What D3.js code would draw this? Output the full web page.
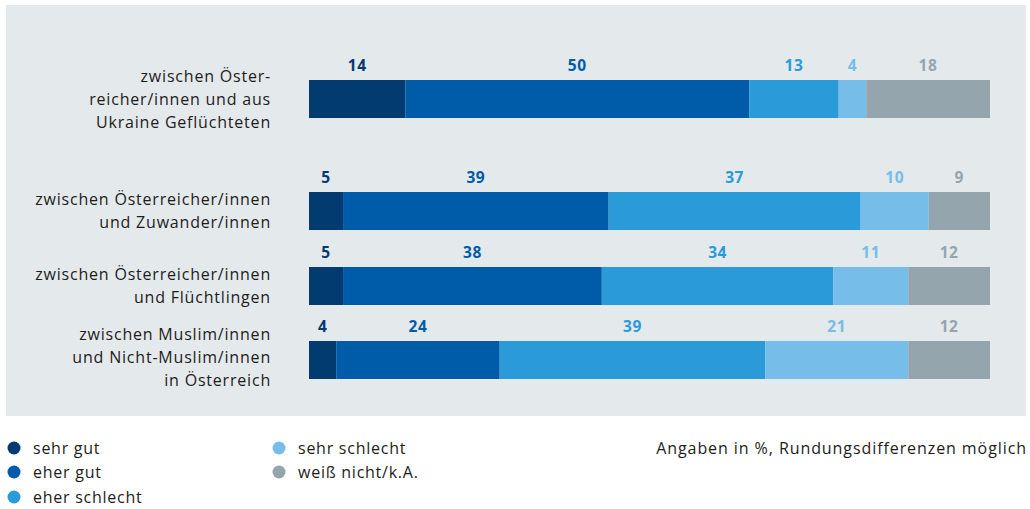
<!DOCTYPE html>
<html>
<head>
<meta charset="utf-8">
<script src="https://cdn.jsdelivr.net/npm/d3@7"></script>
<style>
  html, body { margin: 0; padding: 0; background: #ffffff; }
  svg { display: block; font-family: "Open Sans", "DejaVu Sans", sans-serif; }
</style>
</head>
<body>
<svg id="chart" width="1030" height="509"></svg>
<script>
// Rows of the chart (label lines per row)
const categories = [
  ["zwischen Öster-", "reicher/innen und aus", "Ukraine Geflüchteten"],
  ["zwischen Österreicher/innen", "und Zuwander/innen"],
  ["zwischen Österreicher/innen", "und Flüchtlingen"],
  ["zwischen Muslim/innen", "und Nicht-Muslim/innen", "in Österreich"]
];
const seriesNames = ["sehr gut", "eher gut", "eher schlecht", "sehr schlecht", "weiß nicht/k.A."];
const sehrGut      = [14, 5, 5, 4];
const eherGut      = [50, 39, 38, 24];
const eherSchlecht = [13, 37, 34, 39];
const sehrSchlecht = [4, 10, 11, 21];
const weissNicht   = [18, 9, 12, 12];
const seriesColors = ["#013b70", "#005ca9", "#2a9ad8", "#76bde9", "#94a5ae"];
const note = "Angaben in %, Rundungsdifferenzen möglich";

const seriesValues = [sehrGut, eherGut, eherSchlecht, sehrSchlecht, weissNicht];
const rows = categories.map((c, i) => {
  const r = { idx: i };
  seriesNames.forEach((s, j) => r[s] = seriesValues[j][i]);
  return r;
});

const svg = d3.select("#chart");

// panel background
svg.append("rect").attr("x", 6).attr("y", 5).attr("width", 1020).attr("height", 411).attr("fill", "#e4e9ec");

// stacked shares (each row normalised to its total)
const stack = d3.stack().keys(seriesNames).offset(d3.stackOffsetExpand);
const layers = stack(rows);

const x = d3.scaleLinear().domain([0, 1]).range([309, 990]);
const rowY = [80, 192, 267, 341];
const barH = 38;
const color = d3.scaleOrdinal().domain(seriesNames).range(seriesColors);

const g = svg.append("g");
layers.forEach(layer => {
  const lg = g.append("g");
  lg.selectAll("rect").data(layer).join("rect")
    .attr("x", d => x(d[0]))
    .attr("y", (d, i) => rowY[i])
    .attr("width", d => x(d[1]) - x(d[0]))
    .attr("height", barH)
    .attr("fill", color(layer.key));
  lg.selectAll("text").data(layer).join("text")
    .attr("x", d => (x(d[0]) + x(d[1])) / 2)
    .attr("y", (d, i) => rowY[i] - 9)
    .attr("text-anchor", "middle")
    .attr("font-size", 15.5)
    .attr("font-weight", 700)
    .attr("letter-spacing", 0.6)
    .attr("fill", color(layer.key))
    .text(d => d.data[layer.key]);
});

// row labels
const lineH = 23;
categories.forEach((lines, i) => {
  const cy = rowY[i] + barH / 2;
  const t = svg.append("text")
    .attr("text-anchor", "end")
    .attr("font-size", 16)
    .attr("letter-spacing", 0.8)
    .attr("fill", "#1d1d1b");
  lines.forEach((ln, k) => {
    t.append("tspan")
      .attr("x", 271)
      .attr("y", cy + (k - (lines.length - 1) / 2) * lineH - (i === 3 ? 3 : 0))
      .attr("dy", "0.35em")
      .text(ln);
  });
});

// legend
const legPos = [[14, 448], [14, 472], [14, 497], [279, 448], [279, 472]];
seriesNames.forEach((s, j) => {
  const [lx, ly] = legPos[j];
  svg.append("circle").attr("cx", lx).attr("cy", ly).attr("r", 6.5).attr("fill", color(s));
  svg.append("text").attr("x", lx + 19).attr("y", ly).attr("dy", "0.35em")
    .attr("font-size", 16).attr("letter-spacing", 0.75).attr("fill", "#1d1d1b").text(s);
});

svg.append("text").attr("x", 1027).attr("y", 448).attr("dy", "0.35em")
  .attr("text-anchor", "end").attr("font-size", 16).attr("letter-spacing", 0.92)
  .attr("fill", "#1d1d1b").text(note);
</script>
</body>
</html>
